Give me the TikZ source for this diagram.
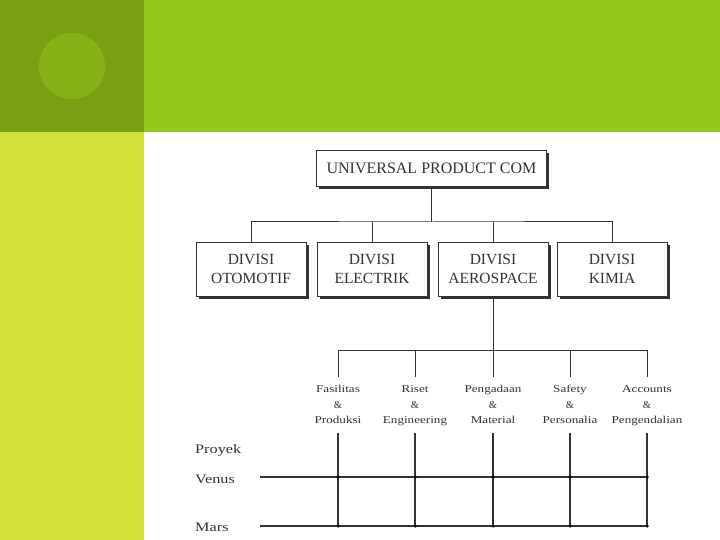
\documentclass[tikz,border=0pt]{standalone}
\usepackage{fontspec}
\usepackage{graphicx}
\usetikzlibrary{shadows}
\setmainfont{Liberation Serif}
\newcommand{\wider}[2]{\strut\scalebox{#1}[1]{#2}}
\newcommand{\widerow}[2]{\scalebox{#1}[1]{#2}}
\definecolor{darkgr}{HTML}{7A9F13}
\definecolor{brightgr}{HTML}{92C91A}
\definecolor{yelgr}{HTML}{D4E03A}
\definecolor{circgr}{HTML}{86B217}
\definecolor{ink}{HTML}{333333}
\begin{document}
\begin{tikzpicture}[x=1pt,y=-1pt,
  orgbox/.style={draw=ink,line width=1pt,fill=white,inner sep=0pt,align=center,text=ink,
    drop shadow={shadow xshift=2.5pt,shadow yshift=-2.5pt,fill=ink,opacity=1}},
  divbox/.style={orgbox,minimum width=110pt,minimum height=54pt,font=\fontsize{15.5}{19.5}\selectfont},
  conn/.style={draw=ink,line width=1pt},
  grid/.style={draw=ink,line width=1.1pt},
  lbl/.style={align=center,inner sep=0pt,font=\fontsize{10.5}{15.5}\selectfont,text=ink},
  row/.style={anchor=west,inner sep=0pt,font=\fontsize{13}{13}\selectfont,text=ink},
  dot/.style={circle,fill=black,inner sep=0pt,minimum size=3.5pt}]
\useasboundingbox (0,0) rectangle (720,540);
\fill[white] (0,0) rectangle (720,540);
\fill[darkgr] (0,0) rectangle (144,132);
\fill[brightgr] (144,0) rectangle (720,132);
\fill[yelgr] (0,132) rectangle (144,540);
\fill[circgr] (72,66) circle (33);

% top box and divisions
\node[orgbox,minimum width=230pt,minimum height=36pt,font=\fontsize{16}{16}\selectfont] (top) at (431.5,168.5) {UNIVERSAL PRODUCT COM};
\node[divbox] (oto) at (251,269) {DIVISI\\OTOMOTIF};
\node[divbox] (ele) at (372,269) {DIVISI\\ELECTRIK};
\node[divbox] (aer) at (493,269) {DIVISI\\AEROSPACE};
\node[divbox] (kim) at (612,269) {DIVISI\\KIMIA};

\coordinate (bus) at (431.5,222);
\draw[conn] (top.south) -- (bus);
\draw[conn] (oto.north) |- (bus) -| (kim.north);
\draw[conn] (ele.north) -- (ele.north |- bus);
\draw[conn] (aer.north) -- (aer.north |- bus);

% functions
\coordinate (fbus) at (493,350);
\node[lbl] (f1) at (338,405) {\wider{1.25}{Fasilitas}\\\&\\\wider{1.25}{Produksi}};
\node[lbl] (f2) at (415,405) {\wider{1.25}{Riset}\\\&\\\wider{1.25}{Engineering}};
\node[lbl] (f3) at (493,405) {\wider{1.25}{Pengadaan}\\\&\\\wider{1.25}{Material}};
\node[lbl] (f4) at (570,405) {\wider{1.25}{Safety}\\\&\\\wider{1.25}{Personalia}};
\node[lbl] (f5) at (647,405) {\wider{1.25}{Accounts}\\\&\\\wider{1.25}{Pengendalian}};
\draw[conn] (aer.south) -- (fbus);
\foreach \i/\x in {1/338,2/415,3/493,4/570,5/647}{
  \coordinate (t\i) at (\x,350);
  \coordinate (u\i) at (\x,377);
  \coordinate (b\i) at (\x,433);
  \coordinate (m\i) at (\x,526);
  \coordinate (v\i) at (\x,477);
}
\draw[conn] (t1) -- (t5);
\foreach \i in {1,...,5}{
  \draw[conn] (t\i) -- (u\i);
  \draw[grid] (b\i) -- (m\i);
}

% projects
\node[row] (proy) at (195,450) {\widerow{1.25}{Proyek}};
\node[row] (ven) at (195,479) {\widerow{1.25}{Venus}};
\node[row] (mar) at (195,527) {\widerow{1.25}{Mars}};
\coordinate (vs) at (260,477);
\coordinate (ms) at (260,526);
\draw[grid] (vs) -- (v5);
\draw[grid] (ms) -- (m5);
\foreach \i in {1,...,5}{
  \node[dot] at (v\i) {};
  \node[dot] at (m\i) {};
}
\end{tikzpicture}
\end{document}
